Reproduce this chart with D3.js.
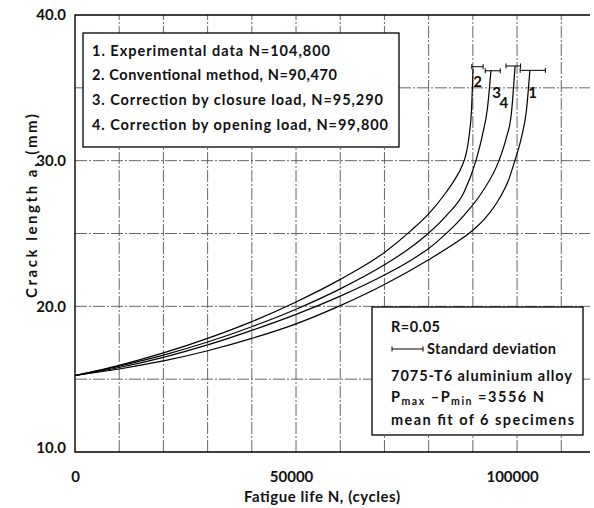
<!DOCTYPE html>
<html><head><meta charset="utf-8">
<script src="https://cdn.jsdelivr.net/npm/d3@7"></script>
<style>
html,body{margin:0;padding:0;background:#fff;}
svg{display:block;}
text{font-family:Lato,"DejaVu Sans",sans-serif;font-weight:700;fill:#111;}
</style></head>
<body>
<svg id="c" width="594" height="508"></svg>
<script>
// ---- data ----
const legendLines = [
  "1. Experimental data N=104,800",
  "2. Conventional method, N=90,470",
  "3. Correction by closure load, N=95,290",
  "4. Correction by opening load, N=99,800"
];
const curveIds = ["1", "2", "3", "4"];
// cycles N and crack length a (mm) for each curve
const cycles1 = [0, 10000, 20000, 30000, 40000, 50000, 60000, 70000, 80000, 86000, 90000, 93000, 96000, 98000, 99500, 101000, 102100, 102900];
const crack1  = [15.25, 15.7, 16.25, 16.95, 17.8, 18.8, 20.05, 21.5, 23.2, 24.34, 25.22, 26.12, 27.4, 28.6, 30.0, 31.6, 33.4, 36.2];
const cycles2 = [0, 10000, 20000, 30000, 40000, 50000, 60000, 70000, 76000, 80000, 84000, 86000, 87500, 88500, 89200, 89700, 90050];
const crack2  = [15.25, 15.95, 16.8, 17.8, 18.95, 20.3, 21.85, 23.7, 25.2, 26.35, 27.85, 28.75, 29.6, 30.5, 31.8, 33.5, 36.3];
const cycles3 = [0, 10000, 20000, 30000, 40000, 50000, 60000, 70000, 76000, 80000, 84000, 88000, 90700, 92200, 93300, 94100];
const crack3  = [15.25, 15.9, 16.65, 17.55, 18.6, 19.8, 21.2, 22.85, 24.05, 25.03, 26.23, 27.83, 30.0, 31.8, 33.6, 36.2];
const cycles4 = [0, 10000, 20000, 30000, 40000, 50000, 60000, 70000, 76000, 80000, 84000, 88000, 92000, 95900, 97500, 98700, 99550];
const crack4  = [15.25, 15.8, 16.5, 17.35, 18.35, 19.45, 20.7, 22.15, 23.17, 23.97, 25.01, 26.25, 27.8, 30.0, 31.5, 33.2, 36.5];
// standard deviation bars at the ends: [low N, high N, a]
const sdBar1 = [100700, 106400, 36.2];
const sdBar2 = [89760, 92320, 36.45];
const sdBar3 = [92800, 96200, 36.17];
const sdBar4 = [97500, 100800, 36.5];
// curve number labels: [N, a]
const labelAt = {"1": [103530, 34.65], "2": [91090, 35.42], "3": [95390, 34.65], "4": [97030, 33.96]};
const xTicks = [0, 50000, 100000];
const yTicks = [10, 20, 30, 40];
const xGrid = [10000, 20000, 30000, 40000, 50000, 60000, 70000, 80000, 90000, 100000, 110000];
const yGrid = [15, 20, 25, 30, 35];
const infoLines = ["R=0.05", "Standard deviation", "7075-T6 aluminium alloy", "P|max| \u2013P|min|  =3556 N", "mean fit of 6 specimens"];

// ---- layout (pixels) ----
const legendWidths = [238, 245, 291, 296];
const infoX = [391, 427, 391, 391, 391];
const infoY = [332, 354, 381, 402, 425];
const infoWidths = [49, 129, 181, 153, 183];

// ---- drawing ----
const svg = d3.select("#c");
const x = d3.scaleLinear().domain([0, 116500]).range([75, 590]);
const y = d3.scaleLinear().domain([10, 40]).range([452, 15]);

// grid
const grid = svg.append("g").attr("stroke", "#555").attr("stroke-width", 0.9)
  .attr("stroke-dasharray", "12,2,2,2").attr("fill", "none");
grid.selectAll("line.v").data(xGrid).join("line")
  .attr("x1", d => x(d)).attr("x2", d => x(d)).attr("y1", y(10)).attr("y2", y(40));
grid.selectAll("line.h").data(yGrid).join("line")
  .attr("x1", x(0)).attr("x2", 590).attr("y1", d => y(d)).attr("y2", d => y(d));

// frame: left, bottom, top
svg.append("path").attr("fill", "none").attr("stroke", "#000").attr("stroke-width", 1.4)
  .attr("d", `M590,${y(40)}H${x(0)}V${y(10)}H590`);

// axes
const xAxis = d3.axisBottom(x).tickValues(xTicks).tickSize(0).tickPadding(19).tickFormat(d3.format("d"));
const gx = svg.append("g").attr("transform", `translate(0,${y(10)})`).call(xAxis);
gx.select(".domain").remove();
gx.selectAll("text").attr("font-size", 15).attr("font-family", "Lato,sans-serif").attr("font-weight", 700).attr("fill", "#111")
  .attr("dx", d => d === 0 ? 0 : -5);
const yAxis = d3.axisLeft(y).tickValues(yTicks).tickSize(0).tickPadding(9).tickFormat(d3.format(".1f"));
const gy = svg.append("g").attr("transform", `translate(${x(0)},0)`).call(yAxis);
gy.select(".domain").remove();
gy.selectAll("text").attr("font-size", 15).attr("font-family", "Lato,sans-serif").attr("font-weight", 700).attr("fill", "#111")
  .attr("dy", d => d === 10 ? "0.05em" : "0.32em");

svg.append("text").attr("x", 244).attr("y", 502).attr("font-size", 15)
  .attr("textLength", 156).attr("lengthAdjust", "spacing").text("Fatigue life N, (cycles)");
svg.append("text").attr("transform", "translate(37,298) rotate(-90)")
  .attr("font-size", 15).attr("textLength", 184).attr("lengthAdjust", "spacing").text("Crack length a, (mm)");

// curves
const curves = [
  {id: "1", N: cycles1, a: crack1, sd: sdBar1},
  {id: "2", N: cycles2, a: crack2, sd: sdBar2},
  {id: "3", N: cycles3, a: crack3, sd: sdBar3},
  {id: "4", N: cycles4, a: crack4, sd: sdBar4}
];
const line = d3.line().x(d => x(d[0])).y(d => y(d[1])).curve(d3.curveMonotoneX);
curves.forEach(c => {
  const pts = c.N.map((n, i) => [n, c.a[i]]);
  svg.append("path").attr("d", line(pts)).attr("fill", "none").attr("stroke", "#000").attr("stroke-width", 1.2);
  const [lo, hi, aa] = c.sd;
  svg.append("path").attr("fill", "none").attr("stroke", "#000").attr("stroke-width", 1)
    .attr("d", `M${x(lo)},${y(aa)}H${x(hi)}M${x(lo)},${y(aa) - 2.5}v5M${x(hi)},${y(aa) - 2.5}v5`);
});
curveIds.forEach(id => {
  const p = labelAt[id];
  svg.append("text").attr("x", x(p[0])).attr("y", y(p[1])).attr("dy", "0.36em")
    .attr("text-anchor", "middle").attr("font-size", 15).text(id);
});

// legend box
svg.append("rect").attr("x", 83).attr("y", 33).attr("width", 316).attr("height", 114)
  .attr("fill", "#fff").attr("stroke", "#000").attr("stroke-width", 1.3);
svg.selectAll("text.leg").data(legendLines).join("text").attr("class", "leg")
  .attr("x", 92).attr("y", (d, i) => 55.5 + i * 24.8).attr("font-size", 14.5)
  .attr("textLength", (d, i) => legendWidths[i]).attr("lengthAdjust", "spacing").text(d => d);

// info box
svg.append("rect").attr("x", 372).attr("y", 307).attr("width", 211).attr("height", 128)
  .attr("fill", "#fff").attr("stroke", "#000").attr("stroke-width", 1.3);
infoLines.forEach((t, i) => {
  const tx = svg.append("text").attr("x", infoX[i]).attr("y", infoY[i]).attr("font-size", 14.5)
    .attr("textLength", infoWidths[i]).attr("lengthAdjust", "spacing");
  if (t.includes("|")) {
    const parts = t.split("|");
    parts.forEach((p, k) => {
      const ts = tx.append("tspan").text(p);
      if (k % 2 === 1) ts.attr("font-size", 10.5).attr("dy", 3);
      else if (k > 0) ts.attr("dy", -3);
    });
  } else tx.text(t);
});
svg.append("path").attr("fill", "none").attr("stroke", "#000").attr("stroke-width", 1)
  .attr("d", "M392,349H423M392,346.5v5M423,346.5v5");
</script>
</body></html>
